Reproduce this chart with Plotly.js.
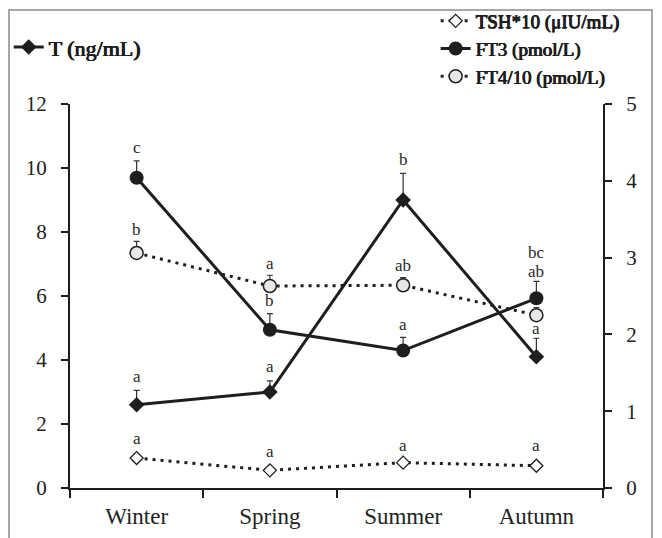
<!DOCTYPE html>
<html>
<head>
<meta charset="utf-8">
<script src="https://cdn.plot.ly/plotly-3.0.1.min.js"></script>
<style>html,body{margin:0;padding:0;background:#fff;}#chart{width:662px;height:538px;}</style>
</head>
<body>
<div id="chart"></div>
<script>
// ---- data ----
var seasons = ["Winter", "Spring", "Summer", "Autumn"];
var T_vals   = [2.6, 3.0, 9.0, 4.1];
var T_err    = [0.45, 0.35, 0.83, 0.58];
var TSH_vals = [0.39, 0.23, 0.33, 0.29];
var TSH_err  = [0.05, 0.04, 0.02, 0.05];
var FT3_vals = [4.04, 2.06, 1.79, 2.47];
var FT3_err  = [0.22, 0.21, 0.17, 0.22];
var FT4_vals = [3.06, 2.63, 2.64, 2.25];
var FT4_err  = [0.15, 0.14, 0.10, 0.10];
var T_letters   = ["a", "a", "b", "a"];
var TSH_letters = ["a", "a", "a", "a"];
var FT3_letters = ["c", "b", "a", "bc"];
var FT4_letters = ["b", "a", "ab", "ab"];
var yLeftTicks  = [0, 2, 4, 6, 8, 10, 12];
var yRightTicks = [0, 1, 2, 3, 4, 5];

var SERIF = "Liberation Serif";
var INK = "#1e1e1e";
// faux-bold via text shadow (serif bold face may be unavailable)
var BOLD_SHADOW = "0.5px 0 0 #1e1e1e, -0.4px 0 0 #1e1e1e, 0 0.3px 0 #1e1e1e";

function errUp(arr) {
  return {type: "data", symmetric: false, array: arr, arrayminus: arr.map(function(){return 0;}),
          color: "#333", thickness: 1.2, width: 3};
}

var traceTSH = {
  x: seasons, y: TSH_vals, yaxis: "y2", name: "TSH*10 (μIU/mL)", legend: "legend2", legendrank: 1,
  mode: "lines+markers", line: {color: INK, width: 3, dash: "3px,5px"},
  marker: {symbol: "diamond", size: 10, color: "#fff", line: {color: INK, width: 1.3}},
  error_y: errUp(TSH_err)
};
var traceFT4 = {
  x: seasons, y: FT4_vals, yaxis: "y2", name: "FT4/10 (pmol/L)", legend: "legend2", legendrank: 3,
  mode: "lines+markers", line: {color: INK, width: 3, dash: "3px,5px"},
  marker: {symbol: "circle", size: 13, color: "#e8e8e8", line: {color: INK, width: 1.5}},
  error_y: errUp(FT4_err)
};
var traceT = {
  x: seasons, y: T_vals, yaxis: "y", name: "T (ng/mL)", legend: "legend",
  mode: "lines+markers", line: {color: INK, width: 3},
  marker: {symbol: "diamond", size: 12, color: INK},
  error_y: errUp(T_err)
};
var traceFT3 = {
  x: seasons, y: FT3_vals, yaxis: "y2", name: "FT3 (pmol/L)", legend: "legend2", legendrank: 2,
  mode: "lines+markers", line: {color: INK, width: 3},
  marker: {symbol: "circle", size: 14, color: INK},
  error_y: errUp(FT3_err)
};

// significance letters, placed above each error bar
var annotations = [];
function addLetters(letters, vals, errs, yref, gap, overrides) {
  letters.forEach(function(txt, i) {
    var o = (overrides && overrides[i]) || {};
    annotations.push({
      x: seasons[i], y: (o.yFrom ? o.yFrom : vals[i] + errs[i]), xref: "x", yref: yref,
      text: txt, showarrow: false, yanchor: "middle", yshift: (o.shift !== undefined ? o.shift : gap),
      font: {family: SERIF, size: 17, color: "#2a2a2a"}
    });
  });
}
addLetters(T_letters, T_vals, T_err, "y", 14, {3: {shift: 10}});
addLetters(TSH_letters, TSH_vals, TSH_err, "y2", 16);
addLetters(FT3_letters, FT3_vals, FT3_err, "y2", 13, {3: {shift: 29}});
addLetters(FT4_letters, FT4_vals, FT4_err, "y2", 12, {3: {yFrom: FT3_vals[3] + FT3_err[3], shift: 10}});

var axisCommon = {
  showline: true, linewidth: 2, linecolor: INK, ticks: "outside", ticklen: 7, tickwidth: 2,
  tickcolor: INK, showgrid: false, zeroline: false,
  tickfont: {family: SERIF, size: 21, color: "#222"}
};

var layout = {
  width: 662, height: 538,
  margin: {l: 70, r: 59, t: 104, b: 50, pad: 0, autoexpand: false},
  paper_bgcolor: "#fff", plot_bgcolor: "#fff",
  showlegend: true,
  xaxis: Object.assign({}, axisCommon, {type: "category", range: [-0.5, 3.5], tickson: "boundaries",
    ticklen: 8, ticklabelstandoff: 6, tickfont: {family: SERIF, size: 23, color: "#222"}}),
  yaxis: Object.assign({}, axisCommon, {range: [0, 12], tickvals: yLeftTicks, ticklabelstandoff: 10}),
  yaxis2: Object.assign({}, axisCommon, {range: [0, 5], tickvals: yRightTicks, overlaying: "y",
    side: "right", ticklabelstandoff: 10}),
  legend: {x: -0.115, xanchor: "left", y: 1.148, yanchor: "middle", bgcolor: "rgba(0,0,0,0)",
    font: {family: SERIF, size: 22, color: INK, shadow: BOLD_SHADOW}, itemwidth: 30},
  legend2: {x: 0.686, xanchor: "left", y: 1.2656, yanchor: "top", bgcolor: "rgba(0,0,0,0)",
    font: {family: SERIF, size: 19, color: INK, shadow: BOLD_SHADOW}, itemwidth: 30, traceorder: "normal"},
  annotations: annotations,
  shapes: [{type: "rect", xref: "paper", yref: "paper", x0: -0.1144, x1: 1.0919, y0: -0.2, y1: 1.2448,
    line: {color: "#8a8a8a", width: 1.5}, layer: "below"}]
};

Plotly.newPlot("chart", [traceTSH, traceFT4, traceT, traceFT3], layout, {displayModeBar: false, staticPlot: true});
</script>
</body>
</html>
